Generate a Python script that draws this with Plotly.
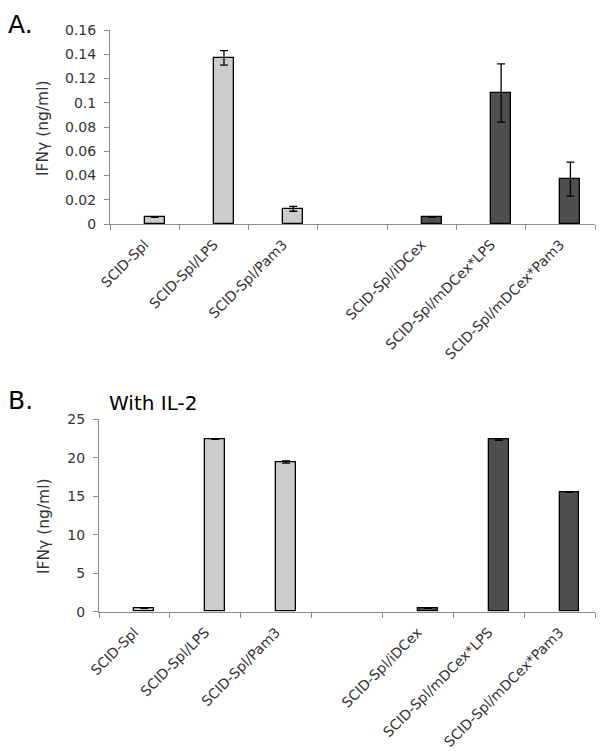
import plotly.graph_objects as go

# ---- data ----
categories = ["SCID-Spl", "SCID-Spl/LPS", "SCID-Spl/Pam3", " ",
              "SCID-Spl/iDCex", "SCID-Spl/mDCex*LPS", "SCID-Spl/mDCex*Pam3"]
light_cats = ["SCID-Spl", "SCID-Spl/LPS", "SCID-Spl/Pam3"]
dark_cats = ["SCID-Spl/iDCex", "SCID-Spl/mDCex*LPS", "SCID-Spl/mDCex*Pam3"]

a_light = [0.0055, 0.137, 0.0125]
a_light_err = [0, 0.006, 0.002]
a_dark = [0.0055, 0.108, 0.037]
a_dark_err = [0, 0.024, 0.014]

b_light = [0.45, 22.4, 19.45]
b_light_err = [0, 0, 0.15]
b_dark = [0.45, 22.35, 15.5]
b_dark_err = [0, 0.1, 0]

a_ticks = [0, 0.02, 0.04, 0.06, 0.08, 0.1, 0.12, 0.14, 0.16]
a_ticktext = ["0", "0.02", "0.04", "0.06", "0.08", "0.1", "0.12", "0.14", "0.16"]
b_ticks = [0, 5, 10, 15, 20, 25]

LIGHT = "#cccccc"
DARK = "#4f4f4f"
AXIS = "#8c8c8c"
TXT = "#333333"
FONT = "DejaVu Sans"

# page body has an 8px margin; the figure fills the rest of the window
OFF = 8
W, H = 604 - OFF, 753 - OFF

def px(v):
    return (v - OFF) / W

def py(v):
    return 1 - (v - OFF) / H

fig = go.Figure()

def add_bars(x, y, err, color, xa, ya, width):
    fig.add_trace(go.Bar(
        x=x, y=y, xaxis=xa, yaxis=ya,
        marker=dict(color=color, line=dict(color="black", width=1.3)),
        width=width, offset=0,
        error_y=dict(type="data", array=err, visible=True, color="black",
                     thickness=1.3, width=4),
        showlegend=False,
    ))

add_bars(light_cats, a_light, a_light_err, LIGHT, "x", "y", 0.29)
add_bars(dark_cats, a_dark, a_dark_err, DARK, "x", "y", 0.29)
add_bars(light_cats, b_light, b_light_err, LIGHT, "x2", "y2", 0.28)
add_bars(dark_cats, b_dark, b_dark_err, DARK, "x2", "y2", 0.28)

def xaxis_style(domain, anchor):
    return dict(
        domain=domain, anchor=anchor, type="category",
        categoryorder="array", categoryarray=categories,
        range=[-0.5, 6.5], tickson="boundaries",
        ticks="outside", ticklen=5, tickcolor=AXIS, tickwidth=1,
        showline=True, linecolor=AXIS, linewidth=1,
        showgrid=False, zeroline=False, tickangle=-45,
        ticklabelstandoff=6,
        tickfont=dict(family=FONT, size=14, color=TXT),
        automargin=False,
    )

def yaxis_style(domain, anchor, rng, tv, tt):
    return dict(
        domain=domain, anchor=anchor, range=rng,
        tickvals=tv, ticktext=tt,
        ticks="outside", ticklen=5, tickcolor=AXIS, tickwidth=1,
        showline=True, linecolor=AXIS, linewidth=1,
        showgrid=False, zeroline=False,
        ticklabelstandoff=5,
        tickfont=dict(family=FONT, size=14, color=TXT),
        automargin=False,
    )

fig.update_layout(
    width=W, height=H,
    margin=dict(l=0, r=0, t=0, b=0),
    paper_bgcolor="white", plot_bgcolor="white",
    xaxis=xaxis_style([px(110), px(595)], "y"),
    yaxis=yaxis_style([py(224), py(30)], "x", [0, 0.16], a_ticks, a_ticktext),
    xaxis2=xaxis_style([px(99), px(595)], "y2"),
    yaxis2=yaxis_style([py(611.7), py(419.3)], "x2", [0, 25], b_ticks,
                       [str(v) for v in b_ticks]),
    bargap=0,
)

annots = [
    dict(text="A.", x=px(6), y=1, xanchor="left", yanchor="top",
         font=dict(family=FONT, size=25, color="black")),
    dict(text="B.", x=px(6), y=py(400), xanchor="left", yanchor="middle",
         font=dict(family=FONT, size=25, color="black")),
    dict(text="With IL-2", x=px(107), y=py(403), xanchor="left", yanchor="middle",
         font=dict(family=FONT, size=20, color="black")),
    dict(text="IFNγ (ng/ml)", x=px(43), y=py(128), xanchor="center", yanchor="middle",
         textangle=-90, font=dict(family=FONT, size=15.5, color=TXT)),
    dict(text="IFNγ (ng/ml)", x=px(44), y=py(526), xanchor="center", yanchor="middle",
         textangle=-90, font=dict(family=FONT, size=15.5, color=TXT)),
]
for a in annots:
    a.update(xref="paper", yref="paper", showarrow=False)
fig.update_layout(annotations=annots)

fig.write_html("out.html")
